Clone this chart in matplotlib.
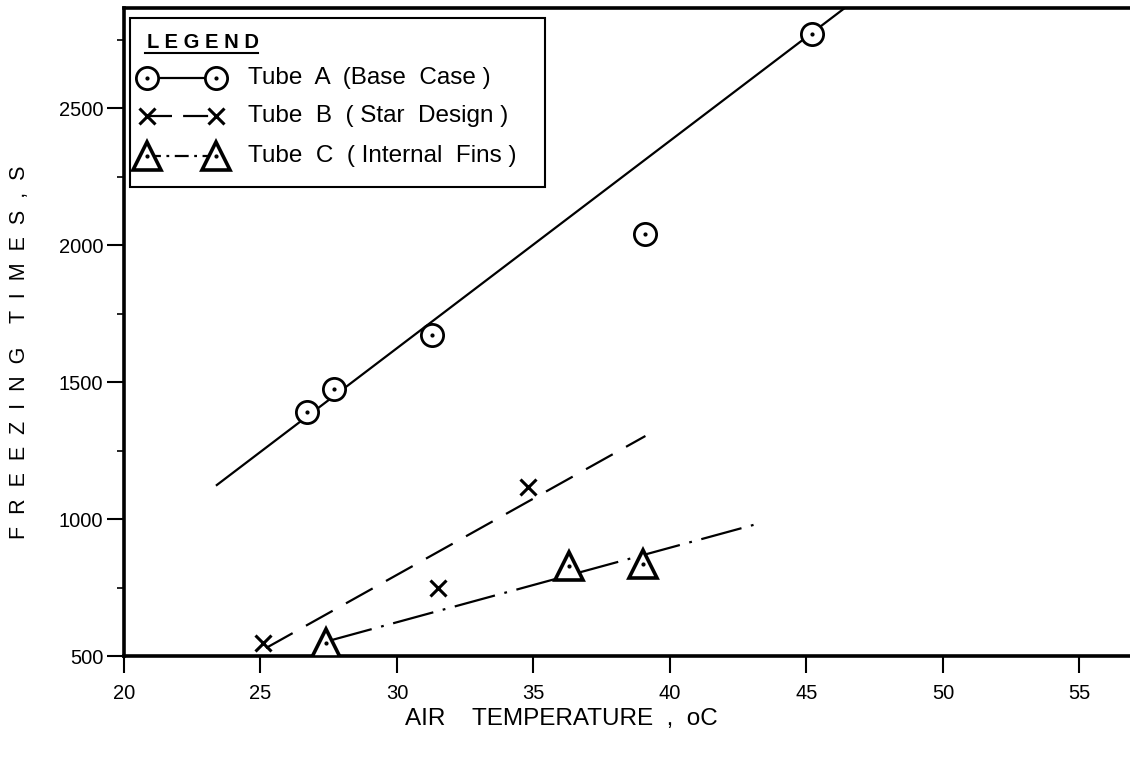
import matplotlib
matplotlib.use('Agg')
import matplotlib.pyplot as plt
from matplotlib.lines import Line2D
from matplotlib.patches import Rectangle
from matplotlib.ticker import MultipleLocator

plt.rcParams['font.family'] = ['Liberation Sans', 'DejaVu Sans']
plt.rcParams['lines.scale_dashes'] = False

tube_a_x = [26.7, 27.7, 31.3, 39.1, 45.2]
tube_a_y = [1390, 1474, 1670, 2040, 2770]
tube_b_x = [25.1, 31.5, 34.8]
tube_b_y = [547, 748, 1117]
tube_c_x = [27.4, 36.3, 39.0]
tube_c_y = [547, 828, 834]

# hand-drawn fit lines (end points)
fit_a_x = [23.4, 46.6]
fit_a_y = [1124, 2880]
fit_b_x = [25.2, 39.1]
fit_b_y = [529, 1303]
fit_c_x = [27.6, 43.3]
fit_c_y = [558, 985]

labels = ['Tube  A  (Base  Case )', 'Tube  B  ( Star  Design )', 'Tube  C  ( Internal  Fins )']

W, H = 1130, 759
fig = plt.figure(figsize=(W / 100, H / 100), dpi=100)
ax = fig.add_axes([124 / W, 103 / H, 1006 / W, 648 / H])

lw = 1.6
dash_b = (0, (22, 11))
dash_c = (0, (30, 7, 2, 7))

ax.plot(fit_a_x, fit_a_y, color='black', lw=lw, zorder=2)
ax.plot(fit_b_x, fit_b_y, color='black', lw=lw, linestyle=dash_b, zorder=2)
ax.plot(fit_c_x, fit_c_y, color='black', lw=lw, linestyle=dash_c, zorder=2)

circ = dict(marker='o', ms=16, mfc='white', mec='black', mew=2)
tri = dict(marker='^', ms=20, mfc='white', mec='black', mew=2.6)
cross = dict(marker='x', ms=12, mec='black', mew=2.2)
dot = dict(marker='.', ms=4, color='black')

ax.plot(tube_a_x, tube_a_y, ls='none', zorder=3, **circ)
ax.plot(tube_a_x, tube_a_y, ls='none', zorder=4, **dot)
ax.plot(tube_b_x, tube_b_y, ls='none', zorder=3, **cross)
ax.plot(tube_c_x, tube_c_y, ls='none', zorder=3, **tri)
ax.plot(tube_c_x, tube_c_y, ls='none', zorder=4, **dot)

ax.set_xlim(20, 56.85)
ax.set_ylim(500, 2865)
ax.xaxis.set_major_locator(MultipleLocator(5))
ax.yaxis.set_major_locator(MultipleLocator(500))
ax.yaxis.set_minor_locator(MultipleLocator(250))
ax.tick_params(axis='both', which='major', direction='out', length=12, width=1.5,
               labelsize=14.5, color='black')
ax.tick_params(axis='y', which='minor', direction='out', length=5, width=1.2)
ax.tick_params(axis='x', pad=8)
ax.tick_params(axis='y', pad=3)

for side in ['left', 'bottom', 'top']:
    ax.spines[side].set_linewidth(2.6)
ax.spines['right'].set_visible(False)


# legend box drawn by hand, positions in figure pixels from top-left
def fx(px):
    return px / W


def fy(py):
    return 1 - py / H


fig.add_artist(Rectangle((fx(130), fy(187)), fx(545) - fx(130), fy(18) - fy(187),
                         transform=fig.transFigure, facecolor='white',
                         edgecolor='black', lw=1.5, zorder=5))
fig.text(fx(147), fy(43), 'L E G E N D', fontsize=14.5, fontweight='bold',
         va='center', ha='left', zorder=6)
fig.add_artist(Line2D([fx(145), fx(258)], [fy(53), fy(53)], color='black', lw=1.5,
                      zorder=6))

row_y = [78, 116, 156]
styles = [('-', circ, True), ((0, (18, 8)), cross, False), ((0, (10, 4, 2, 4)), tri, True)]
for py, (ls, mk, has_dot), lab in zip(row_y, styles, labels):
    fig.add_artist(Line2D([fx(147), fx(216)], [fy(py), fy(py)], color='black', lw=lw,
                          ls=ls, zorder=6, **mk))
    if has_dot:
        fig.add_artist(Line2D([fx(147), fx(216)], [fy(py), fy(py)], ls='none',
                              zorder=7, **dot))
    fig.text(fx(248), fy(py), lab, fontsize=17.5, va='center', ha='left', zorder=6)

fig.text(fx(20), fy(352), 'F  R  E  E  Z  I  N  G    T  I  M  E  S  ,  S', rotation=90,
         ha='center', va='center', fontsize=15.5)
fig.text(fx(561), fy(719), 'AIR    TEMPERATURE  ,  oC', ha='center', va='center',
         fontsize=17.5)

fig.savefig('out.png', dpi=100)
